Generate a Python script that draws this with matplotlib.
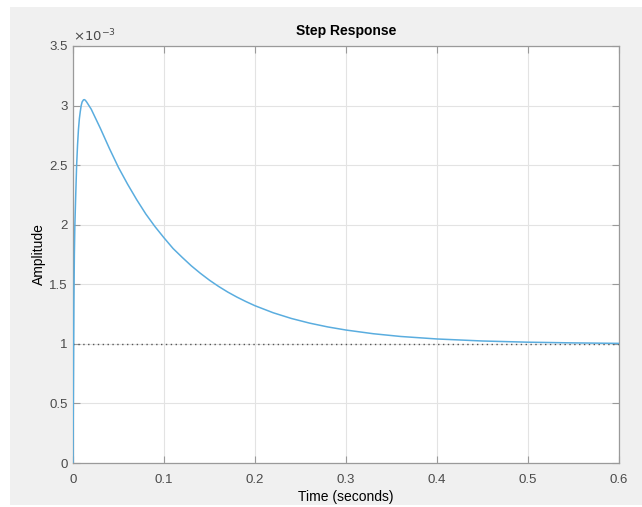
import numpy as np
import matplotlib
matplotlib.use("Agg")
import matplotlib.pyplot as plt
from matplotlib.patches import Rectangle
from matplotlib.ticker import FuncFormatter, MultipleLocator

plt.rcParams["font.family"] = ["Liberation Sans", "DejaVu Sans"]

# step response (amplitude in units of 1e-3)
t = [0, 0.0005, 0.001, 0.0015, 0.002, 0.003, 0.004, 0.005, 0.006, 0.007,
     0.008, 0.009, 0.010, 0.0115, 0.0124, 0.0135, 0.015, 0.0175, 0.02,
     0.025, 0.03, 0.04, 0.05, 0.06, 0.07, 0.08, 0.09, 0.10, 0.11, 0.12,
     0.13, 0.14, 0.15, 0.16, 0.17, 0.18, 0.19, 0.20, 0.22, 0.24, 0.26,
     0.28, 0.30, 0.33, 0.36, 0.40, 0.45, 0.50, 0.55, 0.60]
amp_e3 = [0, 0.7, 1.35, 1.75, 1.98, 2.25, 2.5, 2.67, 2.8, 2.89,
          2.95, 3.0, 3.03, 3.048, 3.05, 3.045, 3.03, 3.0, 2.97,
          2.89, 2.81, 2.64, 2.48, 2.34, 2.21, 2.09, 1.985, 1.89, 1.80, 1.726,
          1.655, 1.592, 1.534, 1.482, 1.435, 1.393, 1.355, 1.32, 1.261, 1.213, 1.174,
          1.142, 1.116, 1.085, 1.062, 1.041, 1.024, 1.014, 1.008, 1.004]
final_e3 = 1.0

amp = np.array(amp_e3) * 1e-3
final = final_e3 * 1e-3

fig = plt.figure(figsize=(6.42, 5.07), dpi=100, facecolor="white")
fig.patches.append(Rectangle((10 / 642, 2 / 507), 632 / 642, 498 / 507,
                             transform=fig.transFigure, facecolor="#f0f0f0",
                             edgecolor="none", zorder=-10))

ax = fig.add_axes([73 / 642, 44 / 507, 546 / 642, 417 / 507])
ax.set_facecolor("white")

ax.plot(t, amp, color="#5aaddf", linewidth=1.1, zorder=3)
ax.plot([0, 0.6], [final, final], linestyle=(0, (1, 2.5)), color="#555555",
        linewidth=1.0, zorder=2)

ax.set_xlim(0, 0.6)
ax.set_ylim(0, 3.5e-3)
ax.xaxis.set_major_locator(MultipleLocator(0.1))
ax.yaxis.set_major_locator(MultipleLocator(0.5e-3))
ax.xaxis.set_major_formatter(FuncFormatter(lambda v, p: f"{v:g}"))
ax.yaxis.set_major_formatter(FuncFormatter(lambda v, p: f"{round(v * 1e3, 3):g}"))

ax.grid(True, color="#e3e3e3", linewidth=0.8, zorder=0)
ax.set_axisbelow(True)
for s in ax.spines.values():
    s.set_color("#9a9a9a")
    s.set_linewidth(0.9)
ax.tick_params(direction="in", length=5, width=0.8, color="#9a9a9a",
               labelcolor="#4a4a4a", labelsize=9.5, top=True, right=True, pad=4)
ax.tick_params(axis="x", pad=8)

ax.text(0.0, 1.004, r"$\times10^{-3}$", transform=ax.transAxes, fontsize=9.5,
        color="#4a4a4a", ha="left", va="bottom")

ax.set_title("Step Response", fontsize=10, fontweight="bold", pad=8)
ax.set_xlabel("Time (seconds)", fontsize=10, labelpad=3)
ax.set_ylabel("Amplitude", fontsize=10, labelpad=2)

fig.savefig("out.png", dpi=100, facecolor=fig.get_facecolor())
